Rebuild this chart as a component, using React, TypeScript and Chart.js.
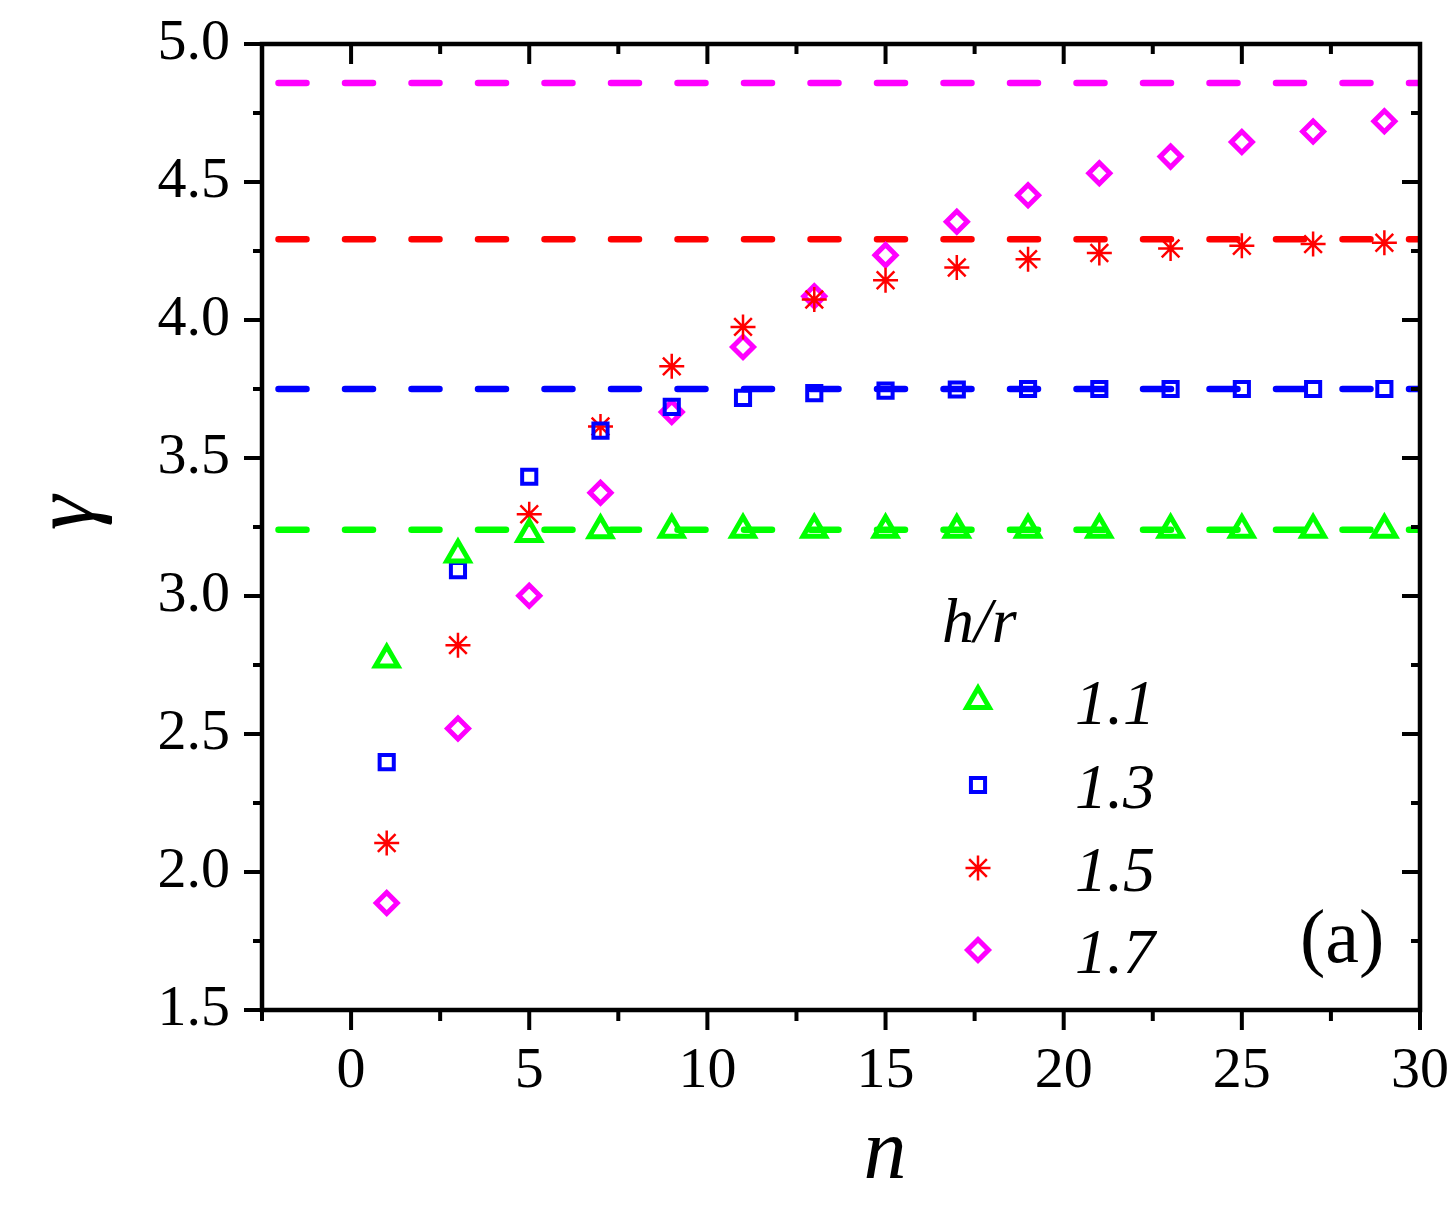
import React, { useEffect, useRef } from 'react';
import { Chart, registerables } from 'chart.js';
import { drawPoint } from 'chart.js/helpers';

Chart.register(...registerables);

// ---- data ----
const nValues = [1, 3, 5, 7, 9, 11, 13, 15, 17, 19, 21, 23, 25, 27, 29];
const gamma11 = [2.77, 3.15, 3.225, 3.238, 3.24, 3.24, 3.24, 3.24, 3.24, 3.24, 3.24, 3.24, 3.24, 3.24, 3.24];
const gamma13 = [2.398, 3.094, 3.432, 3.599, 3.685, 3.718, 3.735, 3.744, 3.748, 3.75, 3.75, 3.75, 3.75, 3.75, 3.75];
const gamma15 = [2.105, 2.822, 3.296, 3.614, 3.832, 3.975, 4.074, 4.144, 4.19, 4.22, 4.243, 4.259, 4.269, 4.275, 4.28];
const gamma17 = [1.888, 2.52, 3.001, 3.374, 3.667, 3.902, 4.086, 4.235, 4.356, 4.452, 4.532, 4.592, 4.645, 4.683, 4.72];
const limits = [3.24, 3.75, 4.293, 4.859];
const hrLabels = ['1.1', '1.3', '1.5', '1.7'];
const seriesColors = ['#00FF00', '#0000FF', '#FF0000', '#FF00FF'];
const xTicks = [0, 5, 10, 15, 20, 25, 30];
const xMinorTicks = [-2.5, 2.5, 7.5, 12.5, 17.5, 22.5, 27.5];
const yTicks = [1.5, 2.0, 2.5, 3.0, 3.5, 4.0, 4.5, 5.0];
const yMinorTicks = [1.75, 2.25, 2.75, 3.25, 3.75, 4.25, 4.75];
const xRange = [-2.5, 30];
const yRange = [1.5, 5.0];

const SERIF = '"Liberation Serif", "Times New Roman", serif';

const markerStyles = [
  { pointStyle: 'triangle', radius: 13, borderWidth: 5 },
  { pointStyle: 'rect', radius: 10, borderWidth: 4 },
  { pointStyle: 'star', radius: 12.5, borderWidth: 2.5 },
  { pointStyle: 'rectRot', radius: 10.5, borderWidth: 5 },
];

const seriesValues = [gamma11, gamma13, gamma15, gamma17];

const noPadding = (s: any) => {
  s.paddingTop = 0;
  s.paddingBottom = 0;
  s.paddingLeft = 0;
  s.paddingRight = 0;
};

const framePlugin = {
  id: 'framePlugin',
  afterDatasetsDraw(chart: any) {
    const { ctx, chartArea: a, scales } = chart;
    const x = scales.x;
    const y = scales.y;
    ctx.save();
    ctx.strokeStyle = '#000';
    ctx.lineJoin = 'miter';
    ctx.lineCap = 'butt';
    ctx.lineWidth = 4.5;
    ctx.strokeRect(a.left, a.top, a.right - a.left, a.bottom - a.top);
    const seg = (x1: number, y1: number, x2: number, y2: number) => {
      ctx.beginPath();
      ctx.moveTo(x1, y1);
      ctx.lineTo(x2, y2);
      ctx.stroke();
    };
    ctx.lineWidth = 4;
    xTicks.forEach((v) => {
      const px = x.getPixelForValue(v);
      seg(px, a.bottom, px, a.bottom + 20);
      seg(px, a.top, px, a.top + 20);
    });
    xMinorTicks.forEach((v) => {
      const px = x.getPixelForValue(v);
      seg(px, a.bottom, px, a.bottom + 11);
      seg(px, a.top, px, a.top + 10);
    });
    yTicks.forEach((v) => {
      const py = y.getPixelForValue(v);
      seg(a.left - 18, py, a.left, py);
      seg(a.right - 18, py, a.right, py);
    });
    yMinorTicks.forEach((v) => {
      const py = y.getPixelForValue(v);
      seg(a.left - 9, py, a.left, py);
      seg(a.right - 9, py, a.right, py);
    });

    // axis titles
    ctx.fillStyle = '#000';
    ctx.font = `italic 86px ${SERIF}`;
    ctx.textAlign = 'center';
    ctx.textBaseline = 'alphabetic';
    ctx.fillText('n', 885, 1178);

    ctx.save();
    ctx.translate(93, 513);
    ctx.rotate(-Math.PI / 2);
    ctx.font = `italic 88px ${SERIF}`;
    ctx.fillText('γ', 0, 0);
    ctx.restore();

    // legend
    ctx.textAlign = 'left';
    ctx.font = `italic 64px ${SERIF}`;
    ctx.fillText('h/r', 942, 642);
    const baselines = [724, 808, 891, 973];
    hrLabels.forEach((lab, i) => {
      ctx.fillStyle = '#000';
      ctx.fillText(lab, 1075, baselines[i]);
      ctx.save();
      ctx.strokeStyle = seriesColors[i];
      ctx.fillStyle = 'rgba(0,0,0,0)';
      ctx.lineWidth = markerStyles[i].borderWidth;
      drawPoint(ctx, { ...markerStyles[i], rotation: 0 } as any, 978, baselines[i] - 23);
      ctx.restore();
    });

    // panel label
    ctx.fillStyle = '#000';
    ctx.font = `76px ${SERIF}`;
    ctx.fillText('(a)', 1300, 962);
    ctx.restore();
  },
};

export default function App() {
  const canvasRef = useRef<HTMLCanvasElement | null>(null);

  useEffect(() => {
    const canvas = canvasRef.current;
    if (!canvas) return;

    const scatterSets = seriesValues.map((vals, i) => ({
      type: 'scatter' as const,
      label: hrLabels[i],
      data: nValues.map((n, j) => ({ x: n, y: vals[j] })),
      showLine: false,
      pointStyle: markerStyles[i].pointStyle,
      pointRadius: markerStyles[i].radius,
      pointHoverRadius: markerStyles[i].radius,
      pointBorderWidth: markerStyles[i].borderWidth,
      pointHoverBorderWidth: markerStyles[i].borderWidth,
      borderColor: seriesColors[i],
      backgroundColor: 'rgba(0,0,0,0)',
      order: 1,
    }));

    const lineSets = limits.map((lim, i) => ({
      type: 'scatter' as const,
      label: 'limit ' + hrLabels[i],
      data: [
        { x: xRange[0], y: lim },
        { x: xRange[1], y: lim },
      ],
      showLine: true,
      pointRadius: 0,
      pointHoverRadius: 0,
      borderColor: seriesColors[i],
      borderWidth: 6.5,
      borderDash: [28, 38.5],
      borderDashOffset: 50,
      borderCapStyle: 'round',
      order: 10,
    }));

    const chart = new Chart(canvas, {
      type: 'scatter',
      data: { datasets: [...scatterSets, ...lineSets] as any },
      options: {
        animation: false,
        responsive: true,
        maintainAspectRatio: false,
        layout: { padding: { top: 44, right: 35, left: 0, bottom: 0 } },
        plugins: {
          legend: { display: false },
          tooltip: { enabled: false },
          title: { display: false },
        },
        events: [],
        scales: {
          x: {
            type: 'linear',
            min: xRange[0],
            max: xRange[1],
            afterBuildTicks: (s: any) => {
              s.ticks = xTicks.map((v) => ({ value: v }));
            },
            afterFit: (s: any) => {
              s.height = 202;
              noPadding(s);
            },
            grid: { display: false, drawTicks: false },
            border: { display: false },
            ticks: {
              color: '#000',
              padding: 27,
              maxRotation: 0,
              autoSkip: false,
              font: { family: SERIF, size: 58 },
              callback: (v: any) => String(v),
            },
          },
          y: {
            type: 'linear',
            min: yRange[0],
            max: yRange[1],
            afterBuildTicks: (s: any) => {
              s.ticks = yTicks.map((v) => ({ value: v }));
            },
            afterFit: (s: any) => {
              s.width = 262;
              noPadding(s);
            },
            grid: { display: false, drawTicks: false },
            border: { display: false },
            ticks: {
              color: '#000',
              padding: 32,
              autoSkip: false,
              font: { family: SERIF, size: 58 },
              callback: (v: any) => Number(v).toFixed(1),
            },
          },
        },
      } as any,
      plugins: [framePlugin],
    });

    return () => {
      chart.destroy();
    };
  }, []);

  return (
    <div
      style={{
        position: 'absolute',
        left: 0,
        top: 0,
        width: 1455,
        height: 1212,
        background: '#fff',
      }}
    >
      <canvas ref={canvasRef} />
    </div>
  );
}
